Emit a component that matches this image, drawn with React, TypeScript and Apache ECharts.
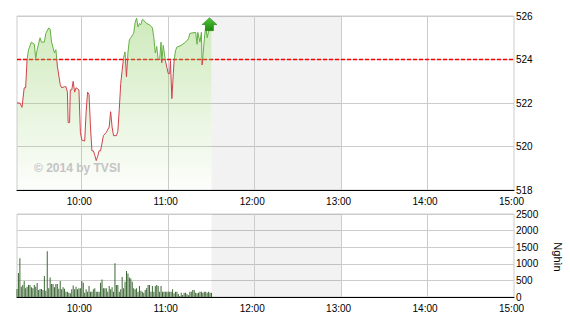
import { useEffect, useRef } from "react";
import * as echarts from "echarts";

// Intraday index price (time of trade, level)
const priceTimes = [
  "9:15", "9:17", "9:18:30", "9:20", "9:21", "9:22", "9:23", "9:25", "9:27", "9:28",
  "9:29", "9:31", "9:32", "9:34", "9:35", "9:37", "9:38", "9:39", "9:41", "9:42",
  "9:43", "9:45", "9:46", "9:48", "9:49", "9:50", "9:50:30", "9:51:30", "9:52", "9:53",
  "9:54", "9:55", "9:56", "9:58", "9:59", "10:00", "10:02", "10:03", "10:04", "10:05",
  "10:06", "10:07", "10:08", "10:09", "10:10", "10:11", "10:12", "10:13", "10:15", "10:17",
  "10:19", "10:20", "10:21", "10:22", "10:24", "10:25", "10:26", "10:27", "10:28", "10:29",
  "10:30", "10:31", "10:32", "10:33", "10:34", "10:36", "10:37", "10:38", "10:39", "10:40",
  "10:41", "10:42", "10:43", "10:45", "10:47", "10:49", "10:50", "10:51", "10:52", "10:53",
  "10:54", "10:55", "10:55:30", "10:56:30", "10:58", "10:59", "11:00", "11:01", "11:01:30", "11:02:30",
  "11:03:30", "11:04", "11:05", "11:06", "11:09", "11:12", "11:14", "11:15", "11:19", "11:20",
  "11:20:30", "11:22", "11:23", "11:23:30", "11:25", "11:26", "11:27", "11:28", "11:29", "11:30",
];
const priceValues = [
  522.0, 522.0, 521.8, 522.7, 522.7, 524.0, 524.45, 524.8, 524.7, 524.05,
  524.45, 525.0, 524.8, 524.8, 525.2, 525.45, 525.4, 524.8, 524.3, 524.45,
  523.7, 522.85, 522.7, 522.75, 522.75, 522.5, 521.1, 521.1, 522.6, 522.6,
  523.0, 522.5, 522.7, 522.6, 520.65, 520.3, 520.25, 521.6, 522.5, 522.4,
  520.9, 519.8, 519.8, 519.6, 519.35, 519.55, 519.8, 519.8, 520.5, 520.65,
  520.9, 521.6, 520.9, 520.5, 520.5, 520.7, 521.7, 522.9, 523.5, 524.1,
  524.35, 523.2, 524.3, 524.9, 525.0, 525.2, 525.7, 525.9, 525.5, 525.65,
  525.6, 525.85, 525.8, 525.65, 525.6, 525.45, 525.0, 524.3, 524.6, 524.0,
  524.0, 524.8, 523.85, 524.65, 523.95, 523.65, 523.35, 523.35, 523.95, 522.2,
  523.35, 523.9, 524.4, 524.57, 524.65, 524.8, 524.95, 525.2, 525.25, 524.7,
  525.25, 524.8, 525.25, 523.75, 524.9, 525.55, 525.0, 525.3, 525.4, 525.35,
];

// Traded volume per minute (thousands of shares), one entry per minute from volumeStart
const volumeStart = "9:15";
const volumes = [
  240, 720, 1170, 310, 360, 480, 260, 310, 360, 360,
  290, 260, 360, 310, 420, 210, 240, 240, 210, 630,
  190, 1380, 260, 590, 390, 390, 290, 390, 390, 250,
  480, 230, 290, 250, 160, 160, 130, 110, 230, 350,
  230, 310, 230, 260, 260, 480, 430, 130, 230, 160,
  330, 160, 160, 230, 260, 160, 160, 160, 430, 530,
  260, 260, 260, 160, 330, 230, 290, 160, 1020, 360,
  360, 160, 230, 600, 260, 460, 780, 710, 590, 560,
  460, 260, 230, 260, 160, 330, 190, 160, 130, 210,
  260, 360, 360, 160, 330, 160, 330, 360, 330, 160,
  330, 160, 160, 160, 160, 160, 160, 160, 230, 110,
  160, 160, 90, 30, 130, 60, 130, 130, 90, 50,
  160, 160, 210, 210, 130, 110, 130, 160, 160, 130,
  160, 160, 130, 160, 130, 130,
];

const referencePrice = 524;
const sessionStart = "9:15";
const sessionEnd = "15:00";
const lunchStart = "11:30";
const lunchEnd = "13:00";
const hourLines = ["10:00", "11:00", "12:00", "13:00", "14:00"];
const priceAxis = { min: 518, max: 526, step: 2 };
const volumeAxis = { min: 0, max: 2500, step: 500 };
const volumeUnit = "Nghìn";
const watermark = "© 2014 by TVSI";

const toMinutes = (t: string) => {
  const [h, m, s] = t.split(":").map(Number);
  return h * 60 + m + (s || 0) / 60;
};
const hourLabel = (v: number) => (v % 60 === 0 ? `${v / 60}:00` : "");

const FONT = "Arial";
const AXIS_FONT = "'Liberation Sans Narrow', Arial";
const GRID_COLOR = "#cccccc";
const UP_COLOR = "#64b044";
const DOWN_COLOR = "#d2414b";

const PRICE_GRID = { left: 17, right: 56, top: 16, height: 174 };
const VOLUME_GRID = { left: 17, right: 56, top: 214, height: 83 };

const crisp = (v: number) => Math.round(v - 0.5) + 0.5;

// Lunch-break shading for one panel
function lunchSeries(axisIndex: number, range: { min: number; max: number }) {
  return {
    type: "custom",
    xAxisIndex: axisIndex,
    yAxisIndex: axisIndex,
    z: 1,
    silent: true,
    data: [[toMinutes(lunchStart), toMinutes(lunchEnd)]],
    renderItem: (_p: any, api: any) => {
      const a = api.coord([api.value(0), range.max]);
      const b = api.coord([api.value(1), range.min]);
      return {
        type: "rect",
        shape: { x: a[0], y: a[1], width: b[0] - a[0], height: b[1] - a[1] },
        style: { fill: "rgba(0,0,0,0.052)" },
      };
    },
  };
}

// Vertical hour grid lines for one panel
function hourSeries(axisIndex: number, range: { min: number; max: number }) {
  return {
    type: "custom",
    xAxisIndex: axisIndex,
    yAxisIndex: axisIndex,
    z: 2,
    silent: true,
    data: hourLines.map((h) => [toMinutes(h), range.min]),
    renderItem: (_p: any, api: any) => {
      const a = api.coord([api.value(0), range.max]);
      const b = api.coord([api.value(0), range.min]);
      const x = crisp(a[0]);
      return {
        type: "line",
        shape: { x1: x, y1: a[1], x2: x, y2: b[1] },
        style: { stroke: GRID_COLOR, lineWidth: 1 },
      };
    },
  };
}

function buildOption() {
  const t0 = toMinutes(sessionStart);
  const t1 = toMinutes(sessionEnd);
  const priceData = priceTimes.map((t, i) => [toMinutes(t), priceValues[i]]);
  const v0 = toMinutes(volumeStart);
  const volumeData = volumes.map((v, i) => [v0 + i, v]);
  const last = priceData[priceData.length - 1];

  // green above the reference level, red below it (gradient in panel coordinates)
  const split = (priceAxis.max - referencePrice) / (priceAxis.max - priceAxis.min);
  const lineColor = new echarts.graphic.LinearGradient(
    0,
    PRICE_GRID.top,
    0,
    PRICE_GRID.top + PRICE_GRID.height,
    [
      { offset: 0, color: UP_COLOR },
      { offset: split, color: UP_COLOR },
      { offset: split, color: DOWN_COLOR },
      { offset: 1, color: DOWN_COLOR },
    ],
    true
  );

  const xAxis = (gridIndex: number) => ({
    type: "value",
    gridIndex,
    min: t0,
    max: t1,
    interval: 15,
    axisLine: { show: true, lineStyle: { color: "#000", width: 1 } },
    axisTick: { show: false },
    splitLine: { show: false },
    axisLabel: {
      formatter: hourLabel,
      color: "#000",
      fontSize: 10,
      fontFamily: AXIS_FONT,
      margin: 6,
      padding: [0, 5, 0, 0],
      showMinLabel: true,
      showMaxLabel: true,
    },
  });

  const yAxis = (gridIndex: number, r: { min: number; max: number; step: number }) => ({
    type: "value",
    gridIndex,
    position: "right",
    min: r.min,
    max: r.max,
    interval: r.step,
    axisLine: { show: false },
    axisTick: { show: false },
    splitLine: { show: true, lineStyle: { color: GRID_COLOR, width: 1 } },
    axisLabel: {
      color: "#000",
      fontSize: 10,
      fontFamily: AXIS_FONT,
      margin: 2,
      formatter: (v: number) => String(v),
    },
  });

  return {
    animation: false,
    backgroundColor: "#ffffff",
    grid: [
      { ...PRICE_GRID, show: true, borderColor: GRID_COLOR, borderWidth: 1, backgroundColor: "transparent" },
      { ...VOLUME_GRID, show: true, borderColor: GRID_COLOR, borderWidth: 1, backgroundColor: "transparent" },
    ],
    xAxis: [xAxis(0), xAxis(1)],
    yAxis: [yAxis(0, priceAxis), yAxis(1, volumeAxis)],
    series: [
      {
        type: "line",
        xAxisIndex: 0,
        yAxisIndex: 0,
        z: 4,
        data: priceData,
        showSymbol: false,
        symbol: "none",
        lineStyle: { width: 1, color: lineColor },
        areaStyle: {
          origin: "start",
          color: new echarts.graphic.LinearGradient(0, 0, 0, 1, [
            { offset: 0, color: "rgba(140,205,95,0.6)" },
            { offset: 1, color: "rgba(140,205,95,0.03)" },
          ]),
        },
      },
      {
        type: "bar",
        xAxisIndex: 1,
        yAxisIndex: 1,
        z: 4,
        data: volumeData,
        barWidth: 1,
        itemStyle: { color: "#3d6835" },
      },
      lunchSeries(0, priceAxis),
      lunchSeries(1, volumeAxis),
      hourSeries(0, priceAxis),
      hourSeries(1, volumeAxis),
      {
        // dashed reference (previous close) level across the session
        type: "line",
        xAxisIndex: 0,
        yAxisIndex: 0,
        z: 3,
        silent: true,
        symbol: "none",
        showSymbol: false,
        data: [
          [t0, referencePrice],
          [t1, referencePrice],
        ],
        itemStyle: { color: "#ff0000" },
        lineStyle: { color: "#ff0000", width: 1.5, type: [4, 2] },
      },
      {
        // direction arrow at the latest price
        type: "scatter",
        xAxisIndex: 0,
        yAxisIndex: 0,
        z: 6,
        silent: true,
        data: [last],
        symbol: "path://M7.5,0 L15,7 L11.5,7 L11.5,13 L3.5,13 L3.5,7 L0,7 Z",
        symbolSize: [15, 13],
        symbolOffset: [-2, -6],
        itemStyle: {
          color: new echarts.graphic.LinearGradient(0, 0, 0, 1, [
            { offset: 0, color: "#52c43a" },
            { offset: 1, color: "#1f8a10" },
          ]),
          borderColor: "#1d7a10",
          borderWidth: 0.5,
          opacity: 1,
        },
      },
    ],
    graphic: [
      {
        type: "text",
        left: 34,
        top: 162,
        z: 10,
        silent: true,
        style: { text: watermark, font: `bold 12px ${FONT}`, fill: "#c4c4c4" },
      },
      {
        type: "text",
        x: 558,
        y: 257,
        rotation: -Math.PI / 2,
        silent: true,
        style: { text: volumeUnit, font: `11px ${FONT}`, fill: "#000", align: "center", verticalAlign: "middle" },
      },
    ],
  };
}

export default function App() {
  const ref = useRef<HTMLDivElement>(null);
  useEffect(() => {
    const chart = echarts.init(ref.current!, null, { renderer: "svg" });
    chart.setOption(buildOption() as any);
    return () => chart.dispose();
  }, []);
  return (
    <div
      ref={ref}
      style={{ position: "fixed", left: 0, top: 0, width: 570, height: 320, background: "#fff" }}
    />
  );
}
